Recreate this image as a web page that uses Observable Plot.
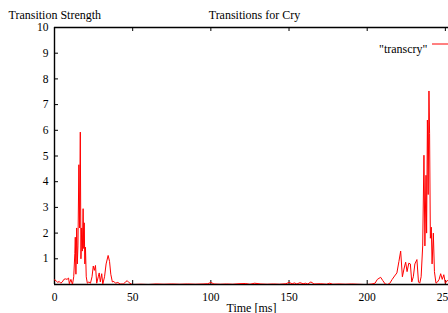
<!DOCTYPE html>
<html><head><meta charset="utf-8">
<script src="https://cdn.jsdelivr.net/npm/d3@7"></script>
<script src="https://cdn.jsdelivr.net/npm/@observablehq/plot@0.6"></script>
<style>html,body{margin:0;padding:0;background:#fff;overflow:hidden;}</style>
</head><body><div id="chart"></div>
<script>
const title = "Transitions for Cry";
const yLabel = "Transition Strength";
const xLabel = "Time [ms]";
const seriesName = "\"transcry\"";
const xTicks = [0, 50, 100, 150, 200, 250];
const yTicks = [1, 2, 3, 4, 5, 6, 7, 8, 9, 10];

const timesMs = [
  0, 1, 2, 3, 4, 5, 6, 7, 8, 9, 9.5, 10.5, 11.5, 12.3,
  13.0, 13.3, 13.7, 14.2, 14.6, 15.0, 15.6, 16.0, 16.5, 16.9, 17.4, 17.8, 18.3, 18.7, 19.0, 19.4, 19.8, 20.3, 21.0,
  22, 23, 24, 24.8, 25.5, 26.2, 27, 28, 28.6, 29.3, 30.2, 30.9, 32, 33, 34.3, 35.2, 36, 37, 38, 39, 40.5, 42, 44, 45.5, 46.5, 47.5, 49,
  50, 55, 60, 65, 70, 75, 80, 85, 90, 95, 98, 100, 102, 106, 110, 114, 118, 122, 125, 128, 132, 136, 140, 144, 148,
  150, 152, 153.5, 155, 157, 159, 160.5, 162, 164, 166, 170, 174, 176, 178, 182, 186, 190, 194, 198,
  200, 203, 205, 206.5, 208.6, 210, 211.5, 213, 214.5, 216, 217.5, 219, 220.3, 221.4, 222.5, 223.5, 224.6, 225.5, 226.6, 227.6,
  228.5, 229.5, 230.5, 231.8, 232.8, 233.6, 234.5, 235.5, 236.3, 236.9, 237.6, 238.0, 238.5, 239.0, 239.5, 239.9, 240.4, 241.0,
  241.5, 242.3, 243.0, 244, 245, 246, 247, 248, 249, 250, 251, 252, 253
];
const strength = [
  0.18, 0.15, 0.08, 0.12, 0.05, 0.1, 0.2, 0.22, 0.2, 0.25, 0.03, 0.2, 0.0, 0.3,
  1.2, 1.84, 0.4, 2.2, 0.8, 1.5, 4.66, 2.2, 5.93, 1.0, 2.2, 1.3, 2.95, 1.4, 2.4, 0.8, 1.45, 0.3, 0.05,
  0.1, 0.05, 0.3, 0.72, 0.55, 0.74, 0.05, 0.3, 0.45, 0.1, 0.42, 0.02, 0.3, 0.8, 1.13, 0.9, 0.4, 0.1, 0.12, 0.05, 0.08, 0.02, 0.02, 0.1, 0.15, 0.08, 0.02,
  0.0, 0.01, 0.0, 0.02, 0.01, 0.02, 0.01, 0.02, 0.01, 0.02, 0.03, 0.08, 0.02, 0.01, 0.02, 0.01, 0.03, 0.04, 0.01, 0.05, 0.02, 0.01, 0.02, 0.01, 0.03,
  0.08, 0.03, 0.06, 0.02, 0.07, 0.03, 0.05, 0.02, 0.1, 0.02, 0.03, 0.01, 0.05, 0.01, 0.02, 0.01, 0.02, 0.01, 0.0,
  0.0, 0.02, 0.05, 0.2, 0.28, 0.15, 0.02, 0.0, 0.05, 0.2, 0.33, 0.45, 0.9, 1.3, 0.3, 0.6, 0.87, 0.5, 0.83, 0.8,
  0.1, 0.3, 0.8, 0.97, 0.1, 0.05, 0.3, 1.5, 5.03, 1.5, 4.25, 2.0, 6.4, 3.5, 7.53, 5.87, 1.8, 2.23,
  0.8, 2.0, 0.5, 0.05, 0.1, 0.2, 0.42, 0.2, 0.38, 0.05, 0.15, 0.15, 0.1
];

const data = timesMs.map((t, i) => ({t, v: strength[i]}));
const font = "Liberation Serif";

const chart = Plot.plot({
  width: 448, height: 313,
  marginLeft: 54, marginRight: 0, marginTop: 27, marginBottom: 29,
  style: {fontFamily: font, fontSize: "11.5px", background: "#fff", color: "#000"},
  x: {domain: [0, 252]},
  y: {domain: [0, 10]},
  marks: [
    Plot.axisX(xTicks, {tickSize: 0, tickPadding: 8, fill: "#000", label: null}),
    Plot.axisY(yTicks, {tickSize: 0, tickPadding: 6, fill: "#000", label: null}),
    Plot.ruleX(xTicks, {x: d => d, y1: 0, y2: 0, insetBottom: 4, stroke: "#000"}),
    Plot.ruleX(xTicks, {x: d => d, y1: 10, y2: 10, insetBottom: -4, stroke: "#000"}),
    Plot.ruleY(yTicks, {y: d => d, x1: 0, x2: 0, insetRight: -4, stroke: "#000"}),
    Plot.ruleY([0, 10], {stroke: "#000", strokeWidth: 1.4}),
    Plot.ruleX([0], {stroke: "#000", strokeWidth: 1.4}),
    Plot.line(data, {x: "t", y: "v", stroke: "#ff0000", strokeWidth: 1, clip: true}),
    Plot.text([title], {text: d => d, frameAnchor: "top", dy: -17, dx: 3, fontSize: 12}),
    Plot.text([yLabel], {text: d => d, frameAnchor: "top-left", textAnchor: "start", dx: -46, dy: -17, fontSize: 12}),
    Plot.text([xLabel], {text: d => d, frameAnchor: "bottom", dy: 27, fontSize: 12}),
    Plot.text([seriesName], {text: d => d, frameAnchor: "top-right", textAnchor: "end", dx: -21, dy: 17, fontSize: 12})
  ]
});
document.getElementById("chart").appendChild(chart);
d3.select(chart).append("line")
  .attr("x1", 432).attr("x2", 455).attr("y1", 44).attr("y2", 44)
  .attr("stroke", "#ff0000").attr("stroke-width", 1);
</script>
</body></html>
